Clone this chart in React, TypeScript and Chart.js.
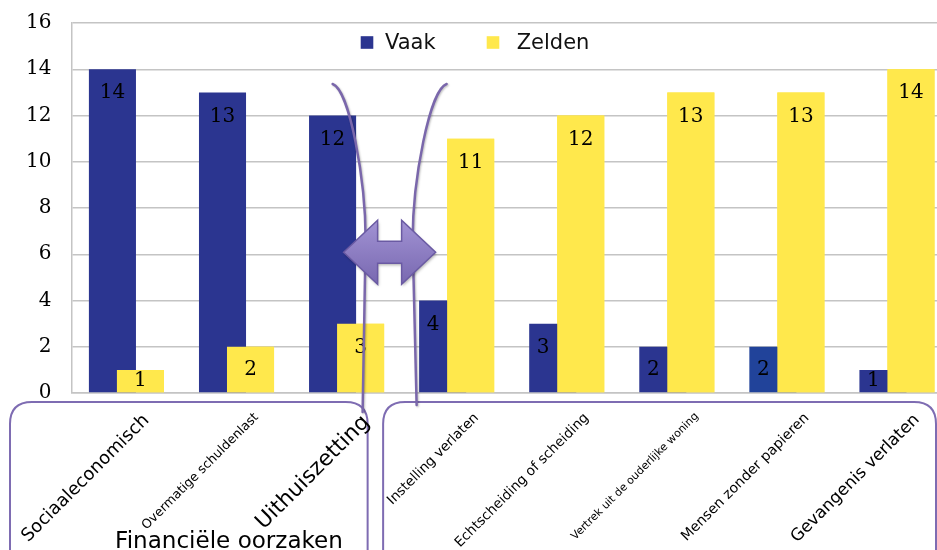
import React, { useEffect, useRef } from 'react';
import { Chart, registerables } from 'chart.js';

Chart.register(...registerables);

// ---- data ----
const categories = [
  'Sociaaleconomisch',
  'Overmatige schuldenlast',
  'Uithuiszetting',
  'Instelling verlaten',
  'Echtscheiding of scheiding',
  'Vertrek uit de ouderlijke woning',
  'Mensen zonder papieren',
  'Gevangenis verlaten',
];
const seriesNames = ['Vaak', 'Zelden'];
const vaak = [14, 13, 12, 4, 3, 2, 2, 1];
const zelden = [1, 2, 3, 11, 12, 13, 13, 14];
const yMin = 0;
const yMax = 16;
const yStep = 2;
const groupLabel = 'Financiële oorzaken';

// ---- styles ----
const labelLengths = [172, 159, 151, 123, 183, 175, 174, 174];
const vaakColors = ['#2B3590', '#2B3590', '#2B3590', '#2B3590', '#2B3590', '#2B3590', '#21439A', '#2B3590'];
const zeldenColor = '#FFE84C';
const purple = '#7E6CB2';
const gridColor = '#C4C4C4';

const CW = 952;
const CH = 550;

function roundRectPath(ctx: CanvasRenderingContext2D, x: number, y: number, w: number, h: number, r: number) {
  ctx.beginPath();
  ctx.moveTo(x + r, y);
  ctx.lineTo(x + w - r, y);
  ctx.quadraticCurveTo(x + w, y, x + w, y + r);
  ctx.lineTo(x + w, y + h - r);
  ctx.quadraticCurveTo(x + w, y + h, x + w - r, y + h);
  ctx.lineTo(x + r, y + h);
  ctx.quadraticCurveTo(x, y + h, x, y + h - r);
  ctx.lineTo(x, y + r);
  ctx.quadraticCurveTo(x, y, x + r, y);
  ctx.closePath();
}

const decorPlugin = {
  id: 'decor',
  afterDatasetsDraw(chart: any) {
    const { ctx, chartArea, scales } = chart;
    const xs = scales.x;
    const ys = scales.y;
    const m0 = chart.getDatasetMeta(0);
    const m1 = chart.getDatasetMeta(1);

    // yellow bars drawn over the blue ones
    ctx.save();
    m1.controller.draw();
    ctx.restore();

    // value labels
    ctx.save();
    ctx.font = '20px "DejaVu Serif"';
    ctx.fillStyle = '#000';
    ctx.textAlign = 'center';
    ctx.textBaseline = 'middle';
    [m0, m1].forEach((m: any, di: number) => {
      m.data.forEach((el: any, i: number) => {
        const p = el.getProps(['x', 'y', 'base', 'width'], true);
        const ly = Math.min(p.y + 24, (p.y + p.base) / 2);
        let lx = p.x;
        if (di === 0) {
          const q = m1.data[i].getProps(['x', 'y', 'width'], true);
          const qLeft = q.x - q.width / 2;
          const pLeft = p.x - p.width / 2;
          if (q.y < ly && qLeft < p.x + p.width / 2) lx = (pLeft + qLeft) / 2;
        }
        ctx.fillText(String(chart.data.datasets[di].data[i]), lx, ly);
      });
    });
    ctx.restore();

    // decoration anchor between the 3rd and 4th category
    const cx = (xs.getPixelForValue(2) + xs.getPixelForValue(3)) / 2 - 12;
    const cy = ys.getPixelForValue(6) - 2;
    const boxTop = chartArea.bottom + 9;

    // group boxes
    ctx.save();
    ctx.lineWidth = 2;
    ctx.strokeStyle = purple;
    ctx.fillStyle = '#fff';
    roundRectPath(ctx, 10, boxTop, cx - 22 - 10, 200, 22);
    ctx.fill();
    ctx.stroke();
    roundRectPath(ctx, cx - 6.5, boxTop, 936 - (cx - 6.5), 200, 22);
    ctx.fill();
    ctx.stroke();
    ctx.restore();

    // bracket curves
    ctx.save();
    ctx.strokeStyle = '#7A67AB';
    ctx.lineWidth = 2.5;
    ctx.lineCap = 'round';
    ctx.shadowColor = 'rgba(0,0,0,0.25)';
    ctx.shadowBlur = 2;
    ctx.shadowOffsetX = 1;
    ctx.shadowOffsetY = 1;
    ctx.beginPath();
    ctx.moveTo(cx - 57, 84);
    ctx.bezierCurveTo(cx - 40, 90, cx - 24, 180, cx - 24, 240);
    ctx.lineTo(cx - 27, boxTop + 10);
    ctx.stroke();
    ctx.beginPath();
    ctx.moveTo(cx + 57, 84);
    ctx.bezierCurveTo(cx + 40, 90, cx + 23, 180, cx + 23, 240);
    ctx.lineTo(cx + 27, boxTop + 3);
    ctx.stroke();
    ctx.restore();

    // double arrow
    ctx.save();
    const g = ctx.createLinearGradient(0, cy - 32, 0, cy + 32);
    g.addColorStop(0, '#A293D4');
    g.addColorStop(1, '#7868B0');
    ctx.fillStyle = g;
    ctx.strokeStyle = '#6A5AA3';
    ctx.lineWidth = 1.5;
    ctx.shadowColor = 'rgba(0,0,0,0.3)';
    ctx.shadowBlur = 3;
    ctx.shadowOffsetX = 1;
    ctx.shadowOffsetY = 2;
    ctx.beginPath();
    ctx.moveTo(cx - 46, cy);
    ctx.lineTo(cx - 12, cy - 32);
    ctx.lineTo(cx - 12, cy - 11);
    ctx.lineTo(cx + 12, cy - 11);
    ctx.lineTo(cx + 12, cy - 32);
    ctx.lineTo(cx + 46, cy);
    ctx.lineTo(cx + 12, cy + 32);
    ctx.lineTo(cx + 12, cy + 11);
    ctx.lineTo(cx - 12, cy + 11);
    ctx.lineTo(cx - 12, cy + 32);
    ctx.closePath();
    ctx.fill();
    ctx.shadowColor = 'transparent';
    ctx.stroke();
    ctx.restore();

    // legend
    ctx.save();
    ctx.font = '21px "DejaVu Sans"';
    ctx.textBaseline = 'middle';
    ctx.textAlign = 'left';
    const ly = 42.5;
    const colors = [vaakColors[0], zeldenColor];
    const sqX = [360.7, 486.7];
    const txX = [385, 516.7];
    chart.data.datasets.forEach((ds: any, i: number) => {
      ctx.fillStyle = colors[i];
      ctx.fillRect(sqX[i], ly - 6.3, 12.6, 12.6);
      ctx.fillStyle = '#111';
      ctx.fillText(ds.label, txX[i], ly + 1);
    });
    ctx.restore();

    // group caption
    ctx.save();
    ctx.font = '100px "DejaVu Sans"';
    const w = ctx.measureText(groupLabel).width;
    const size = (100 * 228) / w;
    ctx.font = size + 'px "DejaVu Sans"';
    ctx.fillStyle = '#000';
    ctx.textAlign = 'center';
    ctx.textBaseline = 'alphabetic';
    ctx.fillText(groupLabel, 229, 548);
    ctx.restore();
  },
};

export default function App() {
  const ref = useRef<HTMLCanvasElement | null>(null);

  useEffect(() => {
    if (!ref.current) return;
    const mctx = document.createElement('canvas').getContext('2d')!;
    mctx.font = '100px "DejaVu Sans"';
    const sizes = categories.map((c, i) => (100 * labelLengths[i]) / mctx.measureText(c).width);

    const chart = new Chart(ref.current, {
      type: 'bar',
      data: {
        labels: categories,
        datasets: [
          {
            label: seriesNames[0],
            data: vaak,
            backgroundColor: vaakColors,
            categoryPercentage: 0.509,
            barPercentage: 1.68,
          },
          {
            label: seriesNames[1],
            data: zelden,
            backgroundColor: zeldenColor,
            categoryPercentage: 0.509,
            barPercentage: 1.68,
          },
        ],
      },
      options: {
        responsive: false,
        animation: false,
        layout: { padding: { left: 0, right: 0, top: 23, bottom: 0 } },
        plugins: {
          legend: { display: false },
          tooltip: { enabled: false },
        },
        scales: {
          x: {
            grid: { display: false, drawTicks: false },
            border: { display: true, color: gridColor, width: 1.5 },
            ticks: {
              z: 1,
              autoSkip: false,
              maxRotation: 45,
              minRotation: 45,
              padding: 17,
              labelOffset: 20,
              color: '#000',
              font: (c: any) => ({ family: 'DejaVu Sans', size: sizes[c.index] || 14 }),
            },
            afterFit: (s: any) => {
              s.height = CH - 393;
              s.paddingLeft = 0;
              s.paddingRight = 0;
            },
          },
          y: {
            min: yMin,
            max: yMax,
            ticks: {
              stepSize: yStep,
              padding: 20,
              color: '#000',
              font: { family: 'DejaVu Serif', size: 20 },
            },
            grid: { color: gridColor, lineWidth: 1.5, drawTicks: false },
            border: { display: true, color: gridColor, width: 1.5 },
            afterFit: (s: any) => {
              s.width = 71.4;
              s.paddingTop = 0;
              s.paddingBottom = 0;
            },
          },
        },
      },
      plugins: [decorPlugin],
    });
    return () => chart.destroy();
  }, []);

  return (
    <div style={{ position: 'absolute', left: 0, top: 0, width: 937, height: 550, overflow: 'hidden', background: '#fff' }}>
      <canvas ref={ref} width={CW} height={CH} style={{ display: 'block' }} />
    </div>
  );
}
